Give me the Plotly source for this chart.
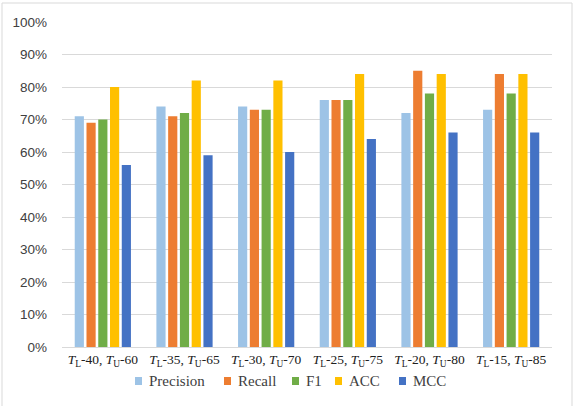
import plotly.graph_objects as go

categories = [
    "<i>T</i><sub>L</sub>-40, <i>T</i><sub>U</sub>-60",
    "<i>T</i><sub>L</sub>-35, <i>T</i><sub>U</sub>-65",
    "<i>T</i><sub>L</sub>-30, <i>T</i><sub>U</sub>-70",
    "<i>T</i><sub>L</sub>-25, <i>T</i><sub>U</sub>-75",
    "<i>T</i><sub>L</sub>-20, <i>T</i><sub>U</sub>-80",
    "<i>T</i><sub>L</sub>-15, <i>T</i><sub>U</sub>-85",
]
precision = [0.71, 0.74, 0.74, 0.76, 0.72, 0.73]
recall = [0.69, 0.71, 0.73, 0.76, 0.85, 0.84]
f1 = [0.70, 0.72, 0.73, 0.76, 0.78, 0.78]
acc = [0.80, 0.82, 0.82, 0.84, 0.84, 0.84]
mcc = [0.56, 0.59, 0.60, 0.64, 0.66, 0.66]

series_names = ["Precision", "Recall", "F1", "ACC", "MCC"]
series_values = [precision, recall, f1, acc, mcc]
series_colors = ["#9DC3E6", "#ED7D31", "#70AD47", "#FFC000", "#4472C4"]

# plot area in pixels (layout)
L, R, T, B = 62, 552, 22, 347
W, H = R - L, B - T
def px_x(p): return (p - L) / W
def px_y(p): return (B - p) / H

fig = go.Figure()
for name, vals, color in zip(series_names, series_values, series_colors):
    fig.add_trace(go.Bar(name=name, x=categories, y=vals, marker_color=color,
                         marker_line_width=0, showlegend=False))

# legend drawn as squares + text (layout positions in pixels)
legend_x = [135, 224, 292, 335, 399]
legend_y = 381
shapes = [dict(type="rect", xref="paper", yref="paper",
               x0=px_x(2), x1=px_x(572), y0=px_y(412), y1=px_y(3),
               line=dict(color="#D9D9D9", width=1), fillcolor="rgba(0,0,0,0)", layer="below")]
annotations = []
for name, color, lx in zip(series_names, series_colors, legend_x):
    shapes.append(dict(type="rect", xref="paper", yref="paper",
                       x0=px_x(lx), x1=px_x(lx + 7), y0=px_y(legend_y + 4), y1=px_y(legend_y - 4),
                       line=dict(width=0), fillcolor=color))
    annotations.append(dict(text=name, xref="paper", yref="paper", x=px_x(lx + 12),
                            y=px_y(legend_y), xanchor="left", yanchor="middle", showarrow=False,
                            font=dict(family="Liberation Serif", size=15, color="#404040")))

fig.update_layout(
    width=574, height=406,
    margin=dict(l=L, r=574 - R, t=T, b=406 - B),
    paper_bgcolor="white", plot_bgcolor="white",
    barmode="group", bargap=0.28, bargroupgap=0.22,
    font=dict(family="Liberation Serif", size=13, color="#404040"),
    showlegend=False,
    shapes=shapes, annotations=annotations,
)
fig.update_yaxes(range=[0, 1.0], dtick=0.1, tickformat=".0%", showgrid=True,
                 gridcolor="#D9D9D9", gridwidth=1, zeroline=False,
                 tickfont=dict(family="Liberation Sans", size=13.5, color="#404040"),
                 ticks="", ticklabelstandoff=14)
fig.update_xaxes(showline=True, linecolor="#D9D9D9", linewidth=1, ticks="",
                 tickfont=dict(family="Liberation Serif", size=13.5, color="#202020"),
                 tickangle=0, ticklabelstandoff=0)

fig.write_html("out.html")
